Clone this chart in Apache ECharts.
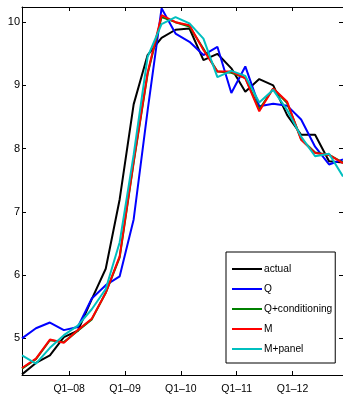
<!DOCTYPE html>
<html>
<head>
<meta charset="utf-8">
<script src="https://cdn.jsdelivr.net/npm/echarts@6/dist/echarts.min.js"></script>
<style>
  html, body { margin: 0; padding: 0; background: #fff; }
  #chart { width: 343px; height: 395px; }
</style>
</head>
<body>
<div id="chart"></div>
<script>
// quarters, index 0 = first observation
const quarters = [0, 1, 2, 3, 4, 5, 6, 7, 8, 9, 10, 11, 12, 13, 14, 15, 16, 17, 18, 19, 20, 21, 22, 23];
const tickPos = [3.38, 7.38, 11.38, 15.38, 19.38];
const tickLabels = ["Q1\u201308", "Q1\u201309", "Q1\u201310", "Q1\u201311", "Q1\u201312"];
const yTicks = [5, 6, 7, 8, 9, 10];

const actual = [4.43, 4.61, 4.73, 5.02, 5.12, 5.62, 6.1, 7.2, 8.7, 9.48, 9.75, 9.88, 9.9, 9.4, 9.5, 9.27, 8.9, 9.1, 9.0, 8.53, 8.22, 8.22, 7.8, 7.78];
const q = [5.0, 5.16, 5.25, 5.13, 5.18, 5.63, 5.84, 5.98, 6.88, 8.6, 10.22, 9.82, 9.69, 9.48, 9.61, 8.88, 9.3, 8.67, 8.71, 8.68, 8.46, 8.03, 7.75, 7.83];
const qCond = [4.52, 4.67, 4.97, 4.94, 5.12, 5.3, 5.72, 6.28, 7.78, 9.18, 10.08, 10.0, 9.93, 9.58, 9.22, 9.2, 9.12, 8.62, 8.95, 8.72, 8.15, 7.94, 7.9, 7.78];
const m = [4.53, 4.68, 4.98, 4.93, 5.13, 5.31, 5.72, 6.3, 7.8, 9.2, 10.11, 10.0, 9.95, 9.56, 9.22, 9.22, 9.11, 8.59, 8.95, 8.74, 8.14, 7.93, 7.9, 7.77];
const mPanel = [4.73, 4.6, 4.85, 5.05, 5.2, 5.46, 5.78, 6.52, 7.9, 9.45, 9.97, 10.08, 9.98, 9.74, 9.13, 9.23, 9.15, 8.73, 8.93, 8.61, 8.19, 7.88, 7.92, 7.56];

const names = ["actual", "Q", "Q+conditioning", "M", "M+panel"];
const colors = ["#000000", "#0000ff", "#008000", "#ff0000", "#00bfbf"];
const values = [actual, q, qCond, m, mPanel];

const font = "'Liberation Sans', Arial, sans-serif";

function pairs(v) {
  return quarters.map(function (x, i) { return [x, v[i]]; });
}

const chart = echarts.init(document.getElementById("chart"));

const xBase = {
  type: "value",
  min: 0,
  max: 23,
  axisLine: { show: true, onZero: false, lineStyle: { color: "#000", width: 1 } },
  axisTick: { show: true, inside: true, length: 4, customValues: tickPos, lineStyle: { color: "#000" } },
  splitLine: { show: false }
};
const yBase = {
  type: "value",
  min: 4.42,
  max: 10.24,
  axisLine: { show: true, onZero: false, lineStyle: { color: "#000", width: 1 } },
  axisTick: { show: true, inside: true, length: 4, customValues: yTicks, lineStyle: { color: "#000" } },
  splitLine: { show: false }
};

const option = {
  backgroundColor: "#fff",
  animation: false,
  grid: { left: 22, top: 7, width: 322, height: 369, containLabel: false },
  xAxis: [
    Object.assign({}, xBase, {
      position: "bottom",
      axisLabel: {
        show: true,
        customValues: tickPos,
        margin: 9,
        color: "#000",
        fontFamily: font,
        fontSize: 10.5,
        formatter: function (v) {
          const k = tickPos.findIndex(function (t) { return Math.abs(t - v) < 0.01; });
          return k >= 0 ? tickLabels[k] : "";
        }
      }
    }),
    Object.assign({}, xBase, { position: "top", axisLabel: { show: false } })
  ],
  yAxis: [
    Object.assign({}, yBase, {
      position: "left",
      axisLabel: {
        show: true,
        customValues: yTicks,
        margin: 2,
        color: "#000",
        fontFamily: font,
        fontSize: 11
      }
    }),
    Object.assign({}, yBase, { position: "right", axisLabel: { show: false } })
  ],
  legend: {
    orient: "vertical",
    left: 226,
    top: 252,
    data: names,
    icon: "rect",
    backgroundColor: "#fff",
    borderColor: "#000",
    borderWidth: 1,
    borderRadius: 0,
    padding: [10, 3, 7, 6],
    itemWidth: 30,
    itemHeight: 2,
    itemGap: 6,
    textStyle: { fontFamily: font, fontSize: 10.2, lineHeight: 14, color: "#000", padding: [0, 0, 0, -3] }
  },
  series: values.map(function (v, i) {
    return {
      name: names[i],
      type: "line",
      data: pairs(v),
      symbol: "none",
      showSymbol: false,
      clip: true,
      color: colors[i],
      lineStyle: { color: colors[i], width: 2 },
      z: 2 + i
    };
  })
};

chart.setOption(option);
window.addEventListener("resize", function () {
  chart.resize();
});
</script>
</body>
</html>
